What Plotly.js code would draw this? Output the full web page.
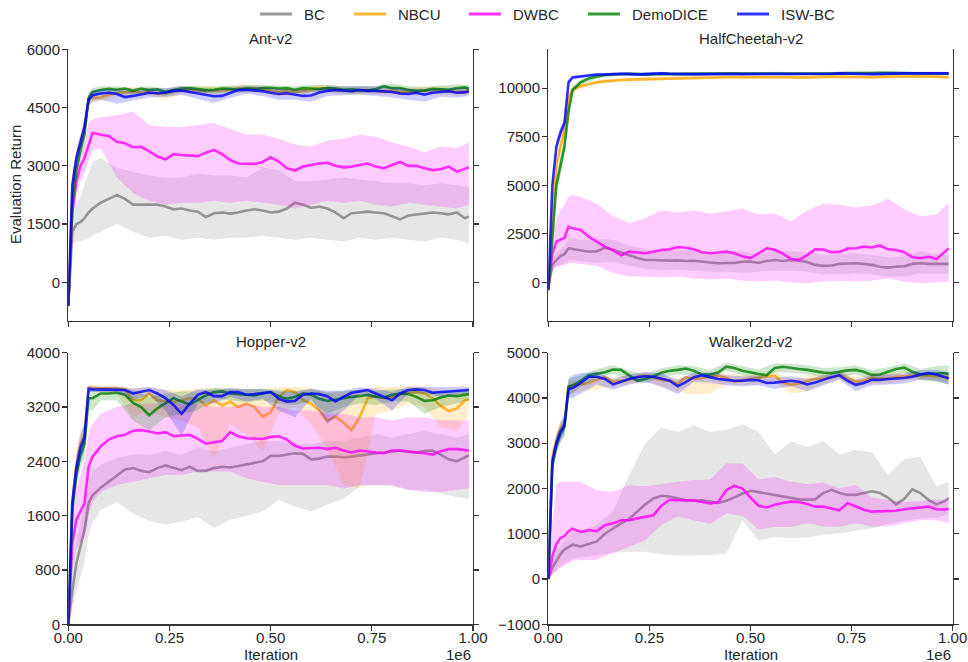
<!DOCTYPE html>
<html>
<head>
<meta charset="utf-8">
<script src="https://cdn.plot.ly/plotly-3.0.1.min.js"></script>
<style>html,body{margin:0;padding:0;background:#fff}#chart{width:968px;height:662px}</style>
</head>
<body>
<div id="chart"></div>
<script>
// ---------------- DATA ----------------
const SERIES = ['BC', 'NBCU', 'DWBC', 'DemoDICE', 'ISW-BC'];
const PANELS = ['Ant-v2', 'HalfCheetah-v2', 'Hopper-v2', 'Walker2d-v2'];
const X_TICKS = [0, 0.25, 0.5, 0.75, 1.0];
const X_TICKTEXT = ['0.00', '0.25', '0.50', '0.75', '1.00'];
const Y_TICKS = [
  [0, 1500, 3000, 4500, 6000],
  [0, 2500, 5000, 7500, 10000],
  [0, 800, 1600, 2400, 3200, 4000],
  [-1000, 0, 1000, 2000, 3000, 4000, 5000]
];
const Y_TICKTEXT = [
  ['0', '1500', '3000', '4500', '6000'],
  ['0', '2500', '5000', '7500', '10000'],
  ['0', '800', '1600', '2400', '3200', '4000'],
  ['\u22121000', '0', '1000', '2000', '3000', '4000', '5000']
];

// iteration (x 1e6) for mean curves
const X = [0, 0.01, 0.02, 0.03, 0.04, 0.05, 0.06,
  0.08, 0.10, 0.12, 0.14, 0.16, 0.18, 0.20, 0.22, 0.24, 0.26,
  0.28, 0.30, 0.32, 0.34, 0.36, 0.38, 0.40, 0.42, 0.44, 0.46,
  0.48, 0.50, 0.52, 0.54, 0.56, 0.58, 0.60, 0.62, 0.64, 0.66,
  0.68, 0.70, 0.72, 0.74, 0.76, 0.78, 0.80, 0.82, 0.84, 0.86,
  0.88, 0.90, 0.92, 0.94, 0.96, 0.98, 0.99];
// iteration (x 1e6) for shaded bands
const XB = [0, 0.01, 0.02, 0.03, 0.04, 0.05, 0.06,
  0.08, 0.12, 0.16, 0.20, 0.24, 0.28, 0.32, 0.36, 0.40, 0.44,
  0.48, 0.52, 0.56, 0.60, 0.64, 0.68, 0.72, 0.76, 0.80, 0.84,
  0.88, 0.92, 0.96, 0.99];

// ----- Ant-v2 -----
const ant_bc = [-600, 1300, 1500, 1550, 1650, 1800, 1900,
  2050, 2150, 2250, 2150, 2000, 2000, 2000, 2000, 1950, 1880,
  1900, 1850, 1820, 1680, 1780, 1800, 1770, 1800, 1850, 1880,
  1850, 1800, 1820, 1900, 2050, 2000, 1920, 1950, 1900, 1800,
  1650, 1780, 1800, 1820, 1800, 1780, 1700, 1620, 1720, 1750,
  1780, 1800, 1780, 1750, 1800, 1650, 1700];
const ant_nbcu = [-600, 2500, 3200, 3600, 4000, 4700, 4750,
  4760, 4830, 4870, 4900, 4920, 4880, 4900, 4850, 4860, 4920,
  4950, 4960, 4940, 4920, 4940, 4950, 4960, 4990, 4980, 4990,
  4960, 4930, 4900, 4920, 4900, 4930, 4960, 5000, 4990, 4970,
  4950, 4920, 4940, 4950, 4930, 4910, 4930, 4900, 4910, 4930,
  4940, 4950, 4960, 4920, 4900, 4910, 4930];
const ant_dwbc = [-600, 1800, 2600, 3000, 3200, 3500, 3850,
  3800, 3770, 3620, 3580, 3480, 3490, 3370, 3240, 3170, 3300,
  3280, 3260, 3250, 3340, 3410, 3300, 3150, 3060, 3050, 3050,
  3100, 3220, 3110, 2940, 2880, 2980, 3020, 3060, 3080, 3000,
  2960, 2980, 3020, 3060, 2980, 2940, 3020, 3100, 3000, 3000,
  2940, 2890, 2910, 2980, 2850, 2910, 2960];
const ant_demodice = [-600, 2000, 2900, 3400, 3800, 4750, 4900,
  4950, 4980, 4960, 4990, 4930, 4990, 4950, 4970, 4900, 4950,
  4990, 5000, 4970, 4950, 4960, 4990, 4980, 4960, 4990, 4980,
  5000, 5010, 4990, 5000, 4960, 5000, 4990, 4970, 5000, 4990,
  4960, 4970, 4950, 4940, 4980, 5050, 5000, 5000, 4950, 4930,
  4940, 4980, 4970, 4960, 5000, 5020, 4980];
const ant_iswbc = [-600, 2500, 3200, 3600, 4000, 4700, 4820,
  4860, 4880, 4850, 4770, 4800, 4850, 4880, 4870, 4890, 4930,
  4940, 4900, 4860, 4830, 4790, 4800, 4880, 4950, 4960, 4940,
  4920, 4880, 4850, 4870, 4840, 4800, 4810, 4890, 4930, 4950,
  4940, 4920, 4950, 4930, 4930, 4920, 4900, 4860, 4850, 4880,
  4830, 4880, 4900, 4920, 4880, 4890, 4920];
const ant_bc_hi = [-500, 1700, 2000, 2200, 2500, 2800, 3100,
  3200, 2950, 2850, 2750, 2700, 2700, 2800, 2750, 2750, 2700,
  2950, 2900, 2600, 2600, 2650, 2700, 2650, 2600, 2550, 2550,
  2500, 2550, 2500, 2450];
const ant_bc_lo = [-700, 1000, 1050, 1050, 1100, 1150, 1200,
  1300, 1500, 1300, 1150, 1200, 1100, 1150, 1100, 1150, 1150,
  1200, 1150, 1100, 1150, 1100, 1050, 1150, 1100, 1150, 1100,
  1050, 1150, 1100, 1000];
const ant_nbcu_hi = [-500, 2700, 3400, 3800, 4200, 4850, 4850,
  4880, 4970, 5020, 5000, 4960, 5050, 5040, 5040, 5060, 5080,
  5060, 5000, 5000, 5060, 5090, 5050, 5040, 5030, 5030, 5010,
  5040, 5060, 5000, 5030];
const ant_nbcu_lo = [-700, 2300, 3000, 3400, 3800, 4550, 4650,
  4650, 4770, 4820, 4800, 4700, 4850, 4840, 4840, 4860, 4880,
  4860, 4800, 4800, 4860, 4890, 4850, 4840, 4830, 4830, 4810,
  4840, 4860, 4800, 4830];
const ant_dwbc_hi = [-500, 2200, 2900, 3300, 3600, 4100, 4200,
  4250, 4300, 4400, 4050, 4000, 4000, 4050, 4100, 3950, 3800,
  3800, 3700, 3550, 3500, 3650, 3700, 3800, 3750, 3600, 3500,
  3350, 3500, 3450, 3600];
const ant_dwbc_lo = [-700, 1400, 2300, 2600, 2800, 3100, 3400,
  3450, 2700, 2300, 2100, 2000, 2050, 2050, 2100, 2050, 2100,
  2050, 2000, 1900, 2000, 2100, 2050, 2100, 2000, 1950, 2050,
  2000, 1950, 1900, 2000];
const ant_demodice_hi = [-500, 2300, 3100, 3600, 4000, 4900, 5000,
  5050, 5050, 5000, 5050, 5000, 5060, 5050, 5040, 5060, 5080,
  5080, 5070, 5050, 5080, 5090, 5040, 5040, 5060, 5120, 5050,
  5030, 5060, 5100, 5080];
const ant_demodice_lo = [-700, 1700, 2700, 3200, 3600, 4600, 4780,
  4850, 4870, 4850, 4860, 4800, 4900, 4880, 4870, 4890, 4900,
  4920, 4900, 4860, 4900, 4910, 4870, 4860, 4890, 4900, 4850,
  4850, 4880, 4900, 4880];
const ant_iswbc_hi = [-500, 2800, 3400, 3800, 4200, 4850, 4950,
  4980, 4980, 4920, 4990, 5000, 5050, 4980, 4950, 5000, 5060,
  5030, 4980, 4970, 4950, 5040, 5050, 5060, 5040, 5020, 4990,
  4980, 5000, 5000, 5030];
const ant_iswbc_lo = [-700, 2200, 3000, 3400, 3800, 4550, 4650,
  4700, 4600, 4680, 4760, 4770, 4830, 4720, 4620, 4750, 4850,
  4800, 4700, 4700, 4650, 4800, 4820, 4830, 4800, 4760, 4700,
  4650, 4780, 4750, 4800];

// ----- HalfCheetah-v2 -----
const hc_bc = [-300, 900, 1150, 1350, 1450, 1750, 1720,
  1650, 1580, 1600, 1780, 1680, 1550, 1400, 1250, 1150, 1150,
  1130, 1120, 1130, 1100, 1110, 1060, 1000, 980, 1000, 1000,
  1060, 1070, 1000, 1100, 1150, 1100, 1150, 1120, 1050, 900,
  850, 870, 950, 970, 980, 950, 900, 800, 760, 800,
  830, 950, 980, 950, 940, 950, 950];
const hc_nbcu = [-400, 3500, 6000, 7000, 7800, 9500, 9950,
  10100, 10200, 10300, 10350, 10400, 10420, 10440, 10450, 10470, 10480,
  10500, 10520, 10530, 10520, 10530, 10540, 10540, 10550, 10560, 10560,
  10560, 10550, 10560, 10570, 10570, 10580, 10560, 10540, 10560, 10570,
  10580, 10600, 10590, 10580, 10560, 10550, 10560, 10580, 10600, 10600,
  10600, 10610, 10600, 10600, 10590, 10580, 10560];
const hc_dwbc = [-300, 1500, 2100, 2200, 2300, 2870, 2780,
  2700, 2350, 2100, 1840, 1650, 1400, 1580, 1530, 1500, 1580,
  1670, 1700, 1820, 1780, 1700, 1550, 1500, 1540, 1580, 1500,
  1350, 1250, 1500, 1750, 1680, 1480, 1200, 1150, 1400, 1700,
  1690, 1550, 1570, 1740, 1760, 1840, 1800, 1900, 1700, 1670,
  1550, 1300, 1240, 1320, 1200, 1600, 1750];
const hc_demodice = [-400, 2500, 5000, 6000, 7000, 8800, 9900,
  10300, 10500, 10600, 10680, 10700, 10720, 10740, 10720, 10700, 10720,
  10740, 10730, 10720, 10730, 10720, 10740, 10750, 10760, 10770, 10760,
  10750, 10750, 10740, 10740, 10750, 10760, 10750, 10740, 10750, 10760,
  10750, 10740, 10760, 10780, 10770, 10760, 10780, 10790, 10780, 10770,
  10760, 10760, 10770, 10760, 10750, 10740, 10740];
const hc_iswbc = [-400, 5000, 7000, 7700, 8200, 10300, 10550,
  10600, 10650, 10700, 10700, 10720, 10740, 10720, 10700, 10720, 10750,
  10760, 10740, 10720, 10730, 10720, 10720, 10730, 10740, 10730, 10720,
  10720, 10730, 10740, 10740, 10750, 10740, 10720, 10730, 10740, 10720,
  10730, 10740, 10760, 10760, 10740, 10730, 10720, 10740, 10760, 10750,
  10760, 10760, 10750, 10760, 10770, 10760, 10760];
const hc_bc_hi = [-300, 1200, 1500, 1700, 1900, 2300, 2300,
  2200, 2250, 2200, 1900, 1700, 1600, 1650, 1650, 1500, 1550,
  1600, 1450, 1650, 1600, 1550, 1400, 1450, 1500, 1400, 1300,
  1350, 1600, 1450, 1400];
const hc_bc_lo = [-500, 600, 800, 900, 1000, 1100, 1150,
  1100, 1000, 1050, 850, 700, 650, 650, 600, 550, 550,
  500, 550, 600, 600, 550, 400, 400, 450, 400, 300,
  300, 450, 450, 450];
const hc_nbcu_hi = [-300, 3900, 6300, 7300, 8100, 9700, 10100,
  10220, 10400, 10500, 10540, 10570, 10600, 10620, 10620, 10630, 10640,
  10650, 10650, 10660, 10650, 10650, 10670, 10670, 10670, 10650, 10690,
  10690, 10690, 10680, 10650];
const hc_nbcu_lo = [-500, 3100, 5700, 6700, 7500, 9300, 9800,
  9980, 10200, 10300, 10340, 10370, 10400, 10440, 10440, 10450, 10460,
  10470, 10470, 10480, 10470, 10470, 10490, 10490, 10490, 10470, 10510,
  10510, 10510, 10500, 10470];
const hc_dwbc_hi = [-300, 2500, 3300, 3700, 4000, 4400, 4500,
  4400, 4050, 3400, 3050, 3300, 3700, 3600, 3700, 3550, 3650,
  3800, 3500, 3550, 3150, 3700, 4050, 4000, 3850, 3950, 4300,
  3750, 3400, 3500, 4100];
const hc_dwbc_lo = [-400, 600, 800, 850, 900, 1000, 1000,
  950, 850, 500, 300, 300, 250, 300, 200, 150, 200,
  100, 50, 100, 0, -50, 50, 100, 50, 100, 200,
  50, -50, 0, 50];
const hc_demodice_hi = [-300, 3000, 5500, 6500, 7500, 9200, 10100,
  10450, 10700, 10800, 10820, 10800, 10820, 10830, 10830, 10830, 10830,
  10820, 10820, 10850, 10830, 10820, 10830, 10840, 10850, 10870, 10870,
  10840, 10850, 10830, 10820];
const hc_demodice_lo = [-500, 2000, 4500, 5500, 6500, 8400, 9700,
  10150, 10500, 10600, 10660, 10600, 10660, 10650, 10670, 10670, 10670,
  10660, 10660, 10670, 10670, 10660, 10670, 10680, 10690, 10690, 10690,
  10680, 10690, 10670, 10660];
const hc_iswbc_hi = [-300, 5400, 7300, 8000, 8500, 10450, 10650,
  10680, 10780, 10800, 10800, 10800, 10840, 10800, 10800, 10810, 10810,
  10800, 10820, 10830, 10800, 10820, 10810, 10840, 10820, 10800, 10840,
  10840, 10830, 10850, 10840];
const hc_iswbc_lo = [-500, 4600, 6700, 7400, 7900, 10150, 10450,
  10520, 10620, 10640, 10640, 10640, 10680, 10640, 10640, 10650, 10650,
  10640, 10660, 10670, 10640, 10660, 10650, 10680, 10660, 10640, 10680,
  10680, 10670, 10690, 10680];

// ----- Hopper-v2 -----
const hop_bc = [0, 500, 900, 1140, 1390, 1780, 1900,
  2010, 2100, 2200, 2280, 2300, 2260, 2240, 2300, 2340, 2300,
  2270, 2320, 2260, 2260, 2300, 2320, 2310, 2330, 2350, 2370,
  2400, 2480, 2480, 2500, 2520, 2510, 2430, 2440, 2470, 2470,
  2460, 2470, 2490, 2510, 2520, 2530, 2550, 2560, 2540, 2530,
  2550, 2560, 2500, 2430, 2400, 2460, 2490];
const hop_nbcu = [0, 1800, 2350, 2650, 2800, 3480, 3480,
  3480, 3470, 3470, 3460, 3300, 3300, 3400, 3300, 3280, 3270,
  3300, 3330, 3320, 3220, 3300, 3220, 3280, 3200, 3250, 3200,
  3060, 3120, 3350, 3450, 3420, 3300, 3250, 3150, 3000, 3060,
  2970, 2860, 3050, 3330, 3360, 3330, 3350, 3380, 3410, 3420,
  3400, 3330, 3220, 3140, 3180, 3300, 3310];
const hop_dwbc = [0, 1200, 1540, 1650, 1780, 2320, 2470,
  2620, 2720, 2770, 2790, 2850, 2860, 2840, 2810, 2830, 2770,
  2780, 2790, 2730, 2660, 2680, 2700, 2830, 2770, 2740, 2730,
  2730, 2760, 2770, 2720, 2630, 2590, 2600, 2600, 2580, 2600,
  2560, 2530, 2560, 2540, 2530, 2520, 2560, 2560, 2540, 2530,
  2520, 2500, 2550, 2580, 2580, 2560, 2560];
const hop_demodice = [0, 1700, 2200, 2500, 2650, 3330, 3330,
  3400, 3400, 3410, 3380, 3260, 3200, 3080, 3180, 3250, 3330,
  3280, 3240, 3300, 3370, 3420, 3430, 3400, 3390, 3380, 3370,
  3400, 3420, 3360, 3320, 3350, 3400, 3380, 3320, 3290, 3310,
  3340, 3350, 3360, 3380, 3350, 3340, 3380, 3400, 3390, 3350,
  3290, 3300, 3340, 3370, 3360, 3380, 3390];
const hop_iswbc = [0, 1800, 2300, 2600, 2750, 3470, 3460,
  3460, 3460, 3460, 3450, 3400, 3430, 3450, 3400, 3330, 3230,
  3100, 3250, 3380, 3420, 3360, 3360, 3420, 3420, 3380, 3390,
  3400, 3420, 3320, 3280, 3290, 3380, 3400, 3390, 3360, 3280,
  3350, 3410, 3430, 3450, 3400, 3350, 3300, 3400, 3450, 3460,
  3450, 3410, 3420, 3430, 3440, 3450, 3450];
const hop_bc_hi = [0, 800, 1200, 1500, 1750, 2100, 2250,
  2350, 2450, 2500, 2500, 2550, 2500, 2600, 2550, 2600, 2650,
  2700, 2700, 2650, 2650, 2700, 2700, 2750, 2800, 2750, 2800,
  2850, 2800, 2750, 2800];
const hop_bc_lo = [0, 200, 500, 700, 900, 1300, 1500,
  1680, 1800, 1630, 1520, 1470, 1510, 1580, 1420, 1540, 1600,
  1660, 1830, 1730, 1660, 1760, 1850, 2030, 2050, 2030, 1980,
  1980, 1930, 1870, 1850];
const hop_nbcu_hi = [0, 2000, 2550, 2850, 3000, 3520, 3520,
  3520, 3520, 3480, 3480, 3450, 3450, 3470, 3480, 3470, 3470,
  3450, 3490, 3500, 3480, 3400, 3420, 3450, 3500, 3500, 3510,
  3500, 3450, 3420, 3450];
const hop_nbcu_lo = [0, 1600, 2150, 2450, 2600, 3430, 3430,
  3430, 3400, 3050, 3150, 3050, 3000, 2900, 2450, 2950, 2800,
  2550, 3100, 3200, 2950, 2600, 2050, 2000, 3100, 3150, 3250,
  3200, 2900, 2850, 3100];
const hop_dwbc_hi = [0, 1600, 2000, 2200, 2400, 2800, 2950,
  3100, 3200, 3250, 3250, 3250, 3250, 3250, 3200, 3200, 3250,
  3200, 3200, 3150, 3150, 3100, 3100, 3050, 3050, 3000, 3050,
  3050, 3000, 3000, 3000];
const hop_dwbc_lo = [0, 800, 1100, 1200, 1300, 1600, 1800,
  1950, 2050, 2100, 2150, 2200, 2200, 2250, 2250, 2250, 2150,
  2100, 2050, 2050, 2050, 2050, 2000, 2050, 2050, 2050, 1980,
  1950, 1950, 1980, 2000];
const hop_demodice_hi = [0, 1900, 2400, 2700, 2850, 3450, 3470,
  3480, 3490, 3450, 3350, 3400, 3430, 3430, 3480, 3470, 3460,
  3470, 3450, 3440, 3460, 3420, 3440, 3450, 3440, 3460, 3470,
  3430, 3440, 3440, 3460];
const hop_demodice_lo = [0, 1500, 2000, 2300, 2450, 3150, 3150,
  3300, 3300, 3000, 2850, 3050, 3100, 3150, 3330, 3300, 3270,
  3300, 3250, 3230, 3280, 3100, 3200, 3250, 3230, 3280, 3280,
  3100, 3200, 3250, 3300];
const hop_iswbc_hi = [0, 2000, 2500, 2800, 2950, 3520, 3500,
  3500, 3500, 3470, 3500, 3450, 3350, 3460, 3450, 3480, 3460,
  3470, 3430, 3420, 3470, 3440, 3440, 3490, 3470, 3420, 3500,
  3500, 3490, 3500, 3500];
const hop_iswbc_lo = [0, 1600, 2100, 2400, 2550, 3420, 3420,
  3420, 3420, 3300, 3380, 3150, 2780, 3250, 3250, 3350, 3280,
  3320, 3150, 3050, 3320, 2950, 3150, 3380, 3320, 3150, 3400,
  3400, 3350, 3380, 3400];

// ----- Walker2d-v2 -----
const wk_bc = [0, 250, 400, 550, 650, 700, 760,
  720, 780, 830, 1000, 1120, 1230, 1330, 1500, 1650, 1780,
  1840, 1820, 1780, 1740, 1730, 1740, 1710, 1680, 1730, 1800,
  1890, 1950, 1920, 1890, 1860, 1820, 1790, 1760, 1750, 1760,
  1900, 1970, 1900, 1860, 1860, 1900, 1940, 1900, 1800, 1650,
  1770, 1980, 1900, 1750, 1650, 1720, 1790];
const wk_nbcu = [0, 2700, 3050, 3300, 3450, 4260, 4270,
  4300, 4330, 4400, 4460, 4360, 4380, 4400, 4460, 4500, 4440,
  4400, 4380, 4320, 4460, 4420, 4440, 4480, 4490, 4440, 4360,
  4400, 4430, 4440, 4480, 4490, 4340, 4290, 4320, 4380, 4420,
  4430, 4460, 4510, 4440, 4360, 4380, 4440, 4430, 4440, 4470,
  4480, 4480, 4500, 4490, 4480, 4470, 4460];
const wk_dwbc = [0, 500, 780, 900, 950, 1050, 1110,
  1040, 1080, 1060, 1190, 1230, 1300, 1300, 1340, 1380, 1410,
  1620, 1750, 1740, 1740, 1740, 1700, 1670, 1700, 1960, 2060,
  2000, 1800, 1620, 1580, 1640, 1680, 1710, 1700, 1660, 1600,
  1600, 1560, 1520, 1680, 1600, 1530, 1490, 1500, 1500, 1510,
  1540, 1560, 1580, 1600, 1540, 1530, 1560];
const wk_demodice = [0, 2500, 2950, 3200, 3350, 4250, 4280,
  4380, 4500, 4540, 4570, 4630, 4620, 4500, 4380, 4420, 4480,
  4560, 4600, 4620, 4650, 4600, 4520, 4520, 4560, 4690, 4660,
  4600, 4560, 4530, 4500, 4660, 4690, 4660, 4640, 4620, 4590,
  4560, 4550, 4580, 4610, 4620, 4580, 4510, 4520, 4580, 4640,
  4670, 4580, 4520, 4530, 4550, 4550, 4530];
const wk_iswbc = [0, 2600, 3000, 3250, 3400, 4200, 4220,
  4330, 4470, 4470, 4420, 4300, 4360, 4420, 4460, 4480, 4470,
  4430, 4380, 4260, 4350, 4460, 4500, 4460, 4420, 4400, 4380,
  4380, 4400, 4390, 4330, 4340, 4360, 4380, 4360, 4300, 4340,
  4400, 4460, 4500, 4380, 4290, 4330, 4400, 4400, 4420, 4430,
  4440, 4470, 4520, 4550, 4520, 4460, 4430];
const wk_bc_hi = [0, 400, 600, 750, 850, 950, 1050,
  1050, 1200, 1500, 2300, 3000, 3350, 3250, 3400, 3250, 3300,
  3420, 3250, 2750, 3040, 2920, 3050, 2750, 2850, 2800, 2300,
  2650, 2700, 2050, 2150];
const wk_bc_lo = [0, 100, 200, 300, 350, 400, 450,
  480, 520, 580, 600, 600, 540, 520, 520, 530, 560,
  1300, 850, 930, 900, 920, 980, 1010, 1060, 1120, 1220,
  1290, 1340, 1360, 1420];
const wk_nbcu_hi = [0, 2900, 3250, 3500, 3650, 4380, 4380,
  4400, 4500, 4450, 4500, 4580, 4500, 4420, 4520, 4560, 4540,
  4500, 4540, 4580, 4420, 4480, 4530, 4600, 4460, 4540, 4540,
  4570, 4580, 4560, 4560];
const wk_nbcu_lo = [0, 2500, 2850, 3100, 3250, 4100, 4100,
  4150, 4200, 4250, 4300, 4400, 4250, 4150, 4080, 4100, 4300,
  4280, 4300, 4350, 4100, 4150, 4300, 4400, 4250, 4320, 4320,
  4380, 4400, 4380, 4360];
const wk_dwbc_hi = [0, 1200, 2100, 2150, 2150, 2150, 2150,
  2150, 1960, 1930, 2070, 2050, 2100, 2150, 2180, 2200, 2550,
  2550, 2200, 2250, 2150, 2100, 2130, 2000, 2080, 1800, 1750,
  1700, 1720, 1760, 1750];
const wk_dwbc_lo = [0, 100, 170, 250, 300, 350, 400,
  420, 420, 580, 710, 860, 1200, 1380, 1300, 1220, 1450,
  1400, 1100, 1150, 1150, 1230, 1160, 1150, 1230, 1160, 1160,
  1230, 1300, 1300, 1230];
const wk_demodice_hi = [0, 2700, 3150, 3400, 3550, 4450, 4450,
  4500, 4640, 4720, 4600, 4520, 4660, 4720, 4700, 4620, 4780,
  4700, 4630, 4760, 4760, 4720, 4660, 4680, 4720, 4620, 4680,
  4760, 4640, 4700, 4720];
const wk_demodice_lo = [0, 2300, 2750, 3000, 3150, 4050, 4100,
  4250, 4440, 4530, 4400, 4320, 4460, 4520, 4500, 4420, 4600,
  4500, 4430, 4560, 4560, 4520, 4460, 4480, 4520, 4400, 4480,
  4560, 4400, 4350, 4300];
const wk_iswbc_hi = [0, 2800, 3200, 3450, 3600, 4400, 4500,
  4550, 4580, 4420, 4520, 4580, 4540, 4400, 4560, 4560, 4500,
  4480, 4490, 4450, 4480, 4420, 4500, 4580, 4400, 4500, 4520,
  4540, 4620, 4620, 4550];
const wk_iswbc_lo = [0, 2400, 2800, 3050, 3200, 4000, 4000,
  4100, 4300, 4180, 4300, 4350, 4250, 4080, 4350, 4340, 4280,
  4260, 4280, 4200, 4260, 4150, 4280, 4400, 4150, 4280, 4300,
  4320, 4400, 4380, 4300];

// ---------------- STYLE ----------------
const FONT = 'Liberation Sans, Arial, sans-serif';
const TXT = '#262626';
const SPINE = '#333333';
const LINE_COLORS = ['rgba(128,128,128,0.8)', 'rgba(255,165,0,0.8)', 'rgba(255,0,255,0.8)', 'rgba(0,128,0,0.8)', 'rgba(0,0,255,0.8)'];
const FILL_COLORS = ['rgba(128,128,128,0.2)', 'rgba(255,165,0,0.2)', 'rgba(255,0,255,0.2)', 'rgba(0,128,0,0.2)', 'rgba(0,0,255,0.2)'];

const panelData = [
  {mean: [ant_bc, ant_nbcu, ant_dwbc, ant_demodice, ant_iswbc],
   lo: [ant_bc_lo, ant_nbcu_lo, ant_dwbc_lo, ant_demodice_lo, ant_iswbc_lo],
   hi: [ant_bc_hi, ant_nbcu_hi, ant_dwbc_hi, ant_demodice_hi, ant_iswbc_hi]},
  {mean: [hc_bc, hc_nbcu, hc_dwbc, hc_demodice, hc_iswbc],
   lo: [hc_bc_lo, hc_nbcu_lo, hc_dwbc_lo, hc_demodice_lo, hc_iswbc_lo],
   hi: [hc_bc_hi, hc_nbcu_hi, hc_dwbc_hi, hc_demodice_hi, hc_iswbc_hi]},
  {mean: [hop_bc, hop_nbcu, hop_dwbc, hop_demodice, hop_iswbc],
   lo: [hop_bc_lo, hop_nbcu_lo, hop_dwbc_lo, hop_demodice_lo, hop_iswbc_lo],
   hi: [hop_bc_hi, hop_nbcu_hi, hop_dwbc_hi, hop_demodice_hi, hop_iswbc_hi]},
  {mean: [wk_bc, wk_nbcu, wk_dwbc, wk_demodice, wk_iswbc],
   lo: [wk_bc_lo, wk_nbcu_lo, wk_dwbc_lo, wk_demodice_lo, wk_iswbc_lo],
   hi: [wk_bc_hi, wk_nbcu_hi, wk_dwbc_hi, wk_demodice_hi, wk_iswbc_hi]}
];

const W = 968, H = 662;
// panel boxes in pixels: [left, right, top, bottom]
const boxes = [[68.3, 473, 49.3, 321.2], [548.3, 952.7, 49.3, 321.2],
               [68.3, 473, 352.7, 624.3], [548.3, 952.7, 352.7, 624.3]];
const yRanges = [[-1000, 6000], [-2000, 12000], [0, 4000], [-1000, 5000]];

const traces = [];
const layout = {
  width: W, height: H, margin: {l: 0, r: 0, t: 0, b: 0},
  paper_bgcolor: '#ffffff', plot_bgcolor: 'rgba(0,0,0,0)',
  showlegend: false, font: {family: FONT, size: 15, color: TXT},
  annotations: [], shapes: []
};

panelData.forEach((p, k) => {
  const xa = 'x' + (k === 0 ? '' : k + 1), ya = 'y' + (k === 0 ? '' : k + 1);
  SERIES.forEach((name, i) => {
    traces.push({
      type: 'scatter', mode: 'none', x: XB.concat(XB.slice().reverse()),
      y: p.hi[i].concat(p.lo[i].slice().reverse()), fill: 'toself',
      fillcolor: FILL_COLORS[i], line: {width: 0}, hoverinfo: 'skip',
      xaxis: xa, yaxis: ya, name: name
    });
    traces.push({
      type: 'scatter', mode: 'lines', x: X, y: p.mean[i], name: name,
      line: {color: LINE_COLORS[i], width: 2.6}, xaxis: xa, yaxis: ya
    });
  });
  const b = boxes[k];
  const xKey = 'xaxis' + (k === 0 ? '' : k + 1), yKey = 'yaxis' + (k === 0 ? '' : k + 1);
  const common = {showline: true, linecolor: SPINE, linewidth: 1.25, ticks: 'outside',
    ticklen: 5, tickwidth: 1.25, tickcolor: SPINE, showgrid: false, zeroline: false,
    tickfont: {family: FONT, size: 15, color: TXT}, fixedrange: true};
  layout[xKey] = Object.assign({}, common, {
    domain: [b[0] / W, b[1] / W], anchor: ya, range: [0, 1],
    tickmode: 'array', tickvals: X_TICKS, ticktext: X_TICKTEXT,
    showticklabels: k >= 2, ticklabelstandoff: -6
  });
  layout[yKey] = Object.assign({}, common, {
    domain: [(H - b[3]) / H, (H - b[2]) / H], anchor: xa, range: yRanges[k],
    tickmode: 'array', tickvals: Y_TICKS[k], ticktext: Y_TICKTEXT[k], mirror: 'ticks',
    ticklabelstandoff: -1
  });
  layout.annotations.push({text: PANELS[k], xref: 'paper', yref: 'paper',
    x: (b[0] + b[1]) / 2 / W, y: (H - (b[2] - 11)) / H, xanchor: 'center', yanchor: 'middle',
    showarrow: false, font: {family: FONT, size: 15, color: TXT}});
  if (k >= 2) {
    layout.annotations.push({text: 'Iteration', xref: 'paper', yref: 'paper',
      x: (b[0] + b[1]) / 2 / W, y: (H - 654) / H, xanchor: 'center', yanchor: 'middle',
      showarrow: false, font: {family: FONT, size: 15, color: TXT}});
    layout.annotations.push({text: '1e6', xref: 'paper', yref: 'paper',
      x: b[1] / W, y: (H - 654) / H, xanchor: 'right', yanchor: 'middle',
      showarrow: false, font: {family: FONT, size: 15, color: TXT}});
  }
});

layout.annotations.push({text: 'Evaluation Return', xref: 'paper', yref: 'paper',
  x: 16 / W, y: (H - 185) / H, xanchor: 'center', yanchor: 'middle', textangle: -90,
  showarrow: false, font: {family: FONT, size: 15, color: TXT}});

// legend (manual, centered row at the top)
const legLineX = [260, 354, 469, 588, 737];
SERIES.forEach((name, i) => {
  layout.shapes.push({type: 'line', xref: 'paper', yref: 'paper',
    x0: legLineX[i] / W, x1: (legLineX[i] + 32) / W, y0: (H - 14) / H, y1: (H - 14) / H,
    line: {color: LINE_COLORS[i], width: 3}});
  layout.annotations.push({text: name, xref: 'paper', yref: 'paper',
    x: (legLineX[i] + 42) / W, y: (H - 14) / H, xanchor: 'left', yanchor: 'middle',
    showarrow: false, font: {family: FONT, size: 15, color: TXT}});
});

Plotly.newPlot('chart', traces, layout, {displayModeBar: false, staticPlot: true});
</script>
</body>
</html>
